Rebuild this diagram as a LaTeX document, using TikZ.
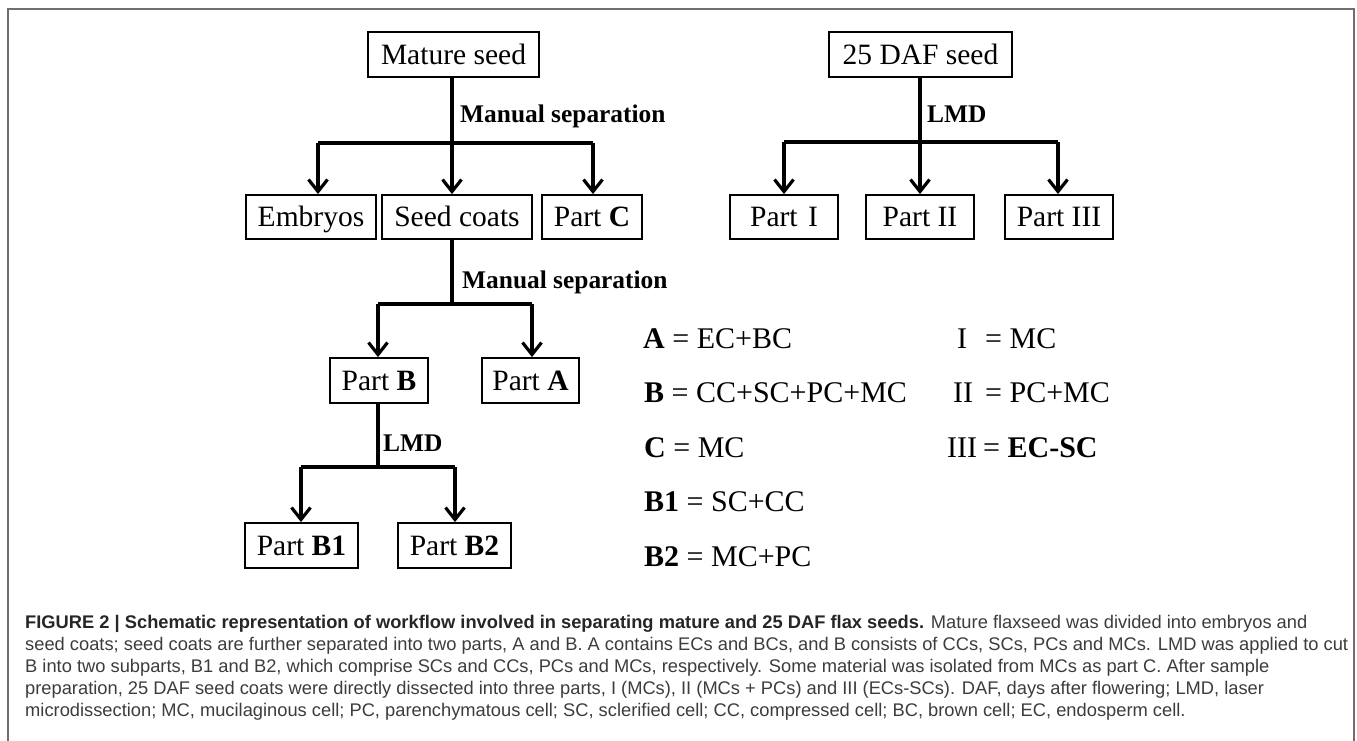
\documentclass[tikz,border=0pt]{standalone}
\usepackage{fontspec}
\setmainfont{Liberation Serif}
\newfontfamily\capfont{Liberation Sans}
\usetikzlibrary{arrows.meta}
\definecolor{framegray}{HTML}{6E6E6E}
\definecolor{captext}{HTML}{3C3C3C}
\definecolor{capbold}{HTML}{262626}
\tikzset{
  box/.style={draw, line width=1.8pt, rectangle, inner sep=0pt, align=center,
              text height=19.5pt, text depth=0pt,
              font=\fontsize{29.5}{30}\selectfont},
  conn/.style={line width=3.6pt, line join=miter, line cap=butt},
  arr/.style={conn, -{Straight Barb[length=12pt,width=19pt,line width=3.2pt]}},
  lab/.style={anchor=base west, inner sep=0pt, font=\fontsize{25.4}{26}\selectfont\bfseries},
  eq/.style={anchor=base west, inner sep=0pt, font=\fontsize{30}{31}\selectfont},
  captionline/.style={anchor=base west, inner sep=0pt, text=captext, font=\capfont\fontsize{18.3}{20}\selectfont},
}
\begin{document}
\begin{tikzpicture}[x=1pt,y=-1pt]
\useasboundingbox (0,0) rectangle (1357,740);
% frame
\draw[framegray, line width=2pt] (8,742) -- (8,9) -- (1354,9) -- (1354,742);

% left tree boxes
\node[box, minimum width=171pt, minimum height=45pt] (mature) at (453.5,54.5) {Mature seed};
\node[box, minimum width=130pt, minimum height=44pt] (embryos) at (311,217) {Embryos};
\node[box, minimum width=150pt, minimum height=44pt] (seedcoats) at (457,217) {Seed coats};
\node[box, minimum width=100pt, minimum height=44pt] (partC) at (592,217) {Part \textbf{C}};
\node[box, minimum width=98pt, minimum height=45pt] (partB) at (379,380.5) {Part \textbf{B}};
\node[box, minimum width=97pt, minimum height=45pt] (partA) at (530.5,380.5) {Part \textbf{A}};
\node[box, minimum width=113pt, minimum height=45pt] (partB1) at (301.5,545.5) {Part \textbf{B1}};
\node[box, minimum width=113pt, minimum height=45pt] (partB2) at (454.5,545.5) {Part \textbf{B2}};

% right tree boxes
\node[box, minimum width=183pt, minimum height=45pt] (daf) at (920.5,54.5) {25 DAF seed};
\node[box, minimum width=108pt, minimum height=44pt] (p1) at (784,217) {Part\hspace{0.35em}I};
\node[box, minimum width=108pt, minimum height=44pt] (p2) at (920,217) {Part II};
\node[box, minimum width=108pt, minimum height=44pt] (p3) at (1059,217) {Part III};

% level 1 (mature seed)
\coordinate (aL) at (318,143);
\coordinate (aM) at (452,143);
\coordinate (aR) at (593,143);
\draw[conn] (aM |- mature.south) -- (aM);
\draw[arr] (aL) -- (aL |- embryos.north);
\draw[arr] (aR) -- (aR |- partC.north);
\draw[conn] (aL) -- (aR);
\draw[arr] (aM) -- (aM |- seedcoats.north);
\node[lab] (ms1) at (460,122) {Manual separation};

% level 2 (seed coats)
\coordinate (bL) at (378,304);
\coordinate (bM) at (452,304);
\coordinate (bR) at (532,304);
\draw[conn] (bM |- seedcoats.south) -- (bM);
\draw[conn] (bL) -- (bR);
\draw[arr] (bL) -- (bL |- partB.north);
\draw[arr] (bR) -- (bR |- partA.north);
\node[lab] (ms2) at (462,288) {Manual separation};

% level 3 (part B)
\coordinate (cL) at (301,467);
\coordinate (cM) at (378,467);
\coordinate (cR) at (455,467);
\draw[conn] (cM |- partB.south) -- (cM);
\draw[conn] (cL) -- (cR);
\draw[arr] (cL) -- (cL |- partB1.north);
\draw[arr] (cR) -- (cR |- partB2.north);
\node[lab] (lmd1) at (383,451) {LMD};

% right tree
\coordinate (dL) at (784,142);
\coordinate (dM) at (920,142);
\coordinate (dR) at (1058,142);
\draw[conn] (dM |- daf.south) -- (dM);
\draw[conn] (dL) -- (dR);
\draw[arr] (dL) -- (dL |- p1.north);
\draw[arr] (dM) -- (dM |- p2.north);
\draw[arr] (dR) -- (dR |- p3.north);
\node[lab] (lmd2) at (927,122) {LMD};

% equations
\node[eq] (eqA) at (643,348) {\textbf{A} = EC+BC};
\node[eq] (eqB) at (644,402.5) {\textbf{B} = CC+SC+PC+MC};
\node[eq] (eqC) at (644,457) {\textbf{C} = MC};
\node[eq] (eqB1) at (644,511.5) {\textbf{B1} = SC+CC};
\node[eq] (eqB2) at (644,566) {\textbf{B2} = MC+PC};
\node[eq] (eqI) at (957,348) {I};
\node[eq] (eqIr) at (985,348) {= MC};
\node[eq] (eqII) at (953,402.5) {II};
\node[eq] (eqIIr) at (985,402.5) {= PC+MC};
\node[eq] (eqIII) at (947,457) {III};
\node[eq] (eqIIIr) at (983,457) {= \textbf{EC-SC}};

% caption
\node[captionline] (cap1) at (25,628) {\textcolor{capbold}{\bfseries FIGURE 2 | Schematic representation of workflow involved in separating mature and 25 DAF flax seeds.} Mature flaxseed was divided into embryos and};
\node[captionline] (cap2) at (25,650) {seed coats; seed coats are further separated into two parts, A and B. A contains ECs and BCs, and B consists of CCs, SCs, PCs and MCs. LMD was applied to cut};
\node[captionline] (cap3) at (25,672) {B into two subparts, B1 and B2, which comprise SCs and CCs, PCs and MCs, respectively. Some material was isolated from MCs as part C. After sample};
\node[captionline] (cap4) at (25,694) {preparation, 25 DAF seed coats were directly dissected into three parts, I (MCs), II (MCs + PCs) and III (ECs-SCs). DAF, days after flowering; LMD, laser};
\node[captionline] (cap5) at (25,716) {microdissection; MC, mucilaginous cell; PC, parenchymatous cell; SC, sclerified cell; CC, compressed cell; BC, brown cell; EC, endosperm cell.};
\end{tikzpicture}
\end{document}
